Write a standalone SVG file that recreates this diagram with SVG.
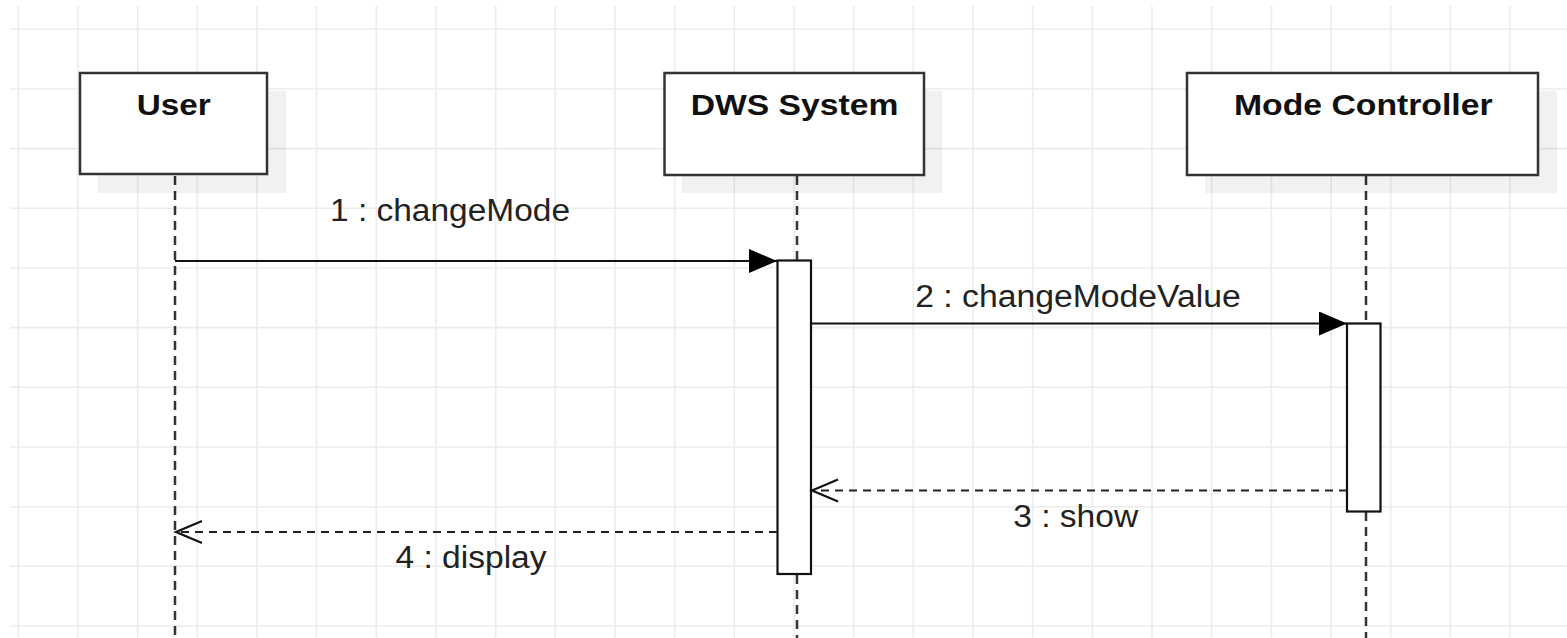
<svg xmlns="http://www.w3.org/2000/svg" width="1567" height="638" viewBox="0 0 1567 638">
<defs>
<style>
.grid line{stroke:#ececec;stroke-width:1.6}
.box{fill:#fff;stroke:#333;stroke-width:2.5}
.shadow{fill:#000;fill-opacity:0.055}
.title{font-family:"Liberation Sans",Arial,sans-serif;font-weight:bold;font-size:30px;fill:#111;text-anchor:middle}
.lbl{font-family:"Liberation Sans",Arial,sans-serif;font-size:31px;fill:#222;text-anchor:middle}
.life{stroke:#333;stroke-width:2.5;stroke-dasharray:9 6;fill:none}
.act{fill:#fff;stroke:#111;stroke-width:2.2}
.msg{stroke:#111;stroke-width:2.2;fill:none}
.ret{stroke:#222;stroke-width:2.2;fill:none;stroke-dasharray:8 6}
</style>
<marker id="filled" markerUnits="userSpaceOnUse" markerWidth="30" markerHeight="26" refX="28" refY="12" orient="auto">
<path d="M0,0 L28,12 L0,24 Z" fill="#000"/>
</marker>
<marker id="open" markerUnits="userSpaceOnUse" markerWidth="30" markerHeight="26" refX="27" refY="12" orient="auto">
<path d="M1,1 L27,12 L1,23" fill="none" stroke="#111" stroke-width="2.2"/>
</marker>
</defs>
<rect x="0" y="0" width="1567" height="638" fill="#fff"/>
<g class="grid">
<line x1="10" y1="29.3" x2="1567" y2="29.3"/>
<line x1="10" y1="89" x2="1567" y2="89"/>
<line x1="10" y1="148.6" x2="1567" y2="148.6"/>
<line x1="10" y1="208.3" x2="1567" y2="208.3"/>
<line x1="10" y1="268" x2="1567" y2="268"/>
<line x1="10" y1="327.6" x2="1567" y2="327.6"/>
<line x1="10" y1="387.3" x2="1567" y2="387.3"/>
<line x1="10" y1="447" x2="1567" y2="447"/>
<line x1="10" y1="506.7" x2="1567" y2="506.7"/>
<line x1="10" y1="566.3" x2="1567" y2="566.3"/>
<line x1="10" y1="626" x2="1567" y2="626"/>
<line x1="18.3" y1="6" x2="18.3" y2="638"/>
<line x1="78" y1="6" x2="78" y2="638"/>
<line x1="137.6" y1="6" x2="137.6" y2="638"/>
<line x1="197.3" y1="6" x2="197.3" y2="638"/>
<line x1="257" y1="6" x2="257" y2="638"/>
<line x1="316.6" y1="6" x2="316.6" y2="638"/>
<line x1="376.3" y1="6" x2="376.3" y2="638"/>
<line x1="436" y1="6" x2="436" y2="638"/>
<line x1="495.7" y1="6" x2="495.7" y2="638"/>
<line x1="555.3" y1="6" x2="555.3" y2="638"/>
<line x1="615" y1="6" x2="615" y2="638"/>
<line x1="674.7" y1="6" x2="674.7" y2="638"/>
<line x1="734.3" y1="6" x2="734.3" y2="638"/>
<line x1="794" y1="6" x2="794" y2="638"/>
<line x1="853.7" y1="6" x2="853.7" y2="638"/>
<line x1="913.3" y1="6" x2="913.3" y2="638"/>
<line x1="973" y1="6" x2="973" y2="638"/>
<line x1="1032.7" y1="6" x2="1032.7" y2="638"/>
<line x1="1092.4" y1="6" x2="1092.4" y2="638"/>
<line x1="1152" y1="6" x2="1152" y2="638"/>
<line x1="1211.7" y1="6" x2="1211.7" y2="638"/>
<line x1="1271.4" y1="6" x2="1271.4" y2="638"/>
<line x1="1331" y1="6" x2="1331" y2="638"/>
<line x1="1390.7" y1="6" x2="1390.7" y2="638"/>
<line x1="1450.4" y1="6" x2="1450.4" y2="638"/>
<line x1="1510" y1="6" x2="1510" y2="638"/>
</g>
<g id="lifelines">
<line class="life" x1="175" y1="176" x2="175" y2="638"/>
<line class="life" x1="797" y1="176" x2="797" y2="260"/>
<line class="life" x1="797" y1="575" x2="797" y2="638"/>
<line class="life" x1="1366" y1="176" x2="1366" y2="323"/>
<line class="life" x1="1366" y1="512" x2="1366" y2="638"/>
</g>
<g id="user">
<rect class="shadow" x="98" y="91" width="188" height="102"/>
<rect class="box" x="80" y="73" width="187" height="101"/>
<text class="title" x="173.7" y="115" textLength="74" lengthAdjust="spacingAndGlyphs">User</text>
</g>
<g id="dws">
<rect class="shadow" x="682" y="91" width="260" height="102"/>
<rect class="box" x="664.5" y="73" width="259.5" height="102"/>
<text class="title" x="794.5" y="115" textLength="207.7" lengthAdjust="spacingAndGlyphs">DWS System</text>
<rect class="act" x="777.5" y="260.5" width="33.5" height="313.5"/>
</g>
<g id="mode-controller">
<rect class="shadow" x="1205" y="91" width="352" height="102"/>
<rect class="box" x="1187" y="73" width="351" height="102"/>
<text class="title" x="1363.3" y="115" textLength="258.7" lengthAdjust="spacingAndGlyphs">Mode Controller</text>
<rect class="act" x="1347" y="323.5" width="33.5" height="188"/>
</g>
<g id="connectors">
<line class="msg" x1="175" y1="261" x2="777" y2="261" marker-end="url(#filled)"/>
<text class="lbl" x="450" y="220.7" textLength="240" lengthAdjust="spacingAndGlyphs">1 : changeMode</text>
<line class="msg" x1="811" y1="323.5" x2="1347" y2="323.5" marker-end="url(#filled)"/>
<text class="lbl" x="1078" y="306.7" textLength="325.7" lengthAdjust="spacingAndGlyphs">2 : changeModeValue</text>
<line class="ret" x1="1347" y1="490.5" x2="812" y2="490.5" marker-end="url(#open)"/>
<text class="lbl" x="1075.7" y="526.7" textLength="125" lengthAdjust="spacingAndGlyphs">3 : show</text>
<line class="ret" x1="777" y1="532" x2="176" y2="532" marker-end="url(#open)"/>
<text class="lbl" x="471" y="567.7" textLength="151" lengthAdjust="spacingAndGlyphs">4 : display</text>
</g>
</svg>
